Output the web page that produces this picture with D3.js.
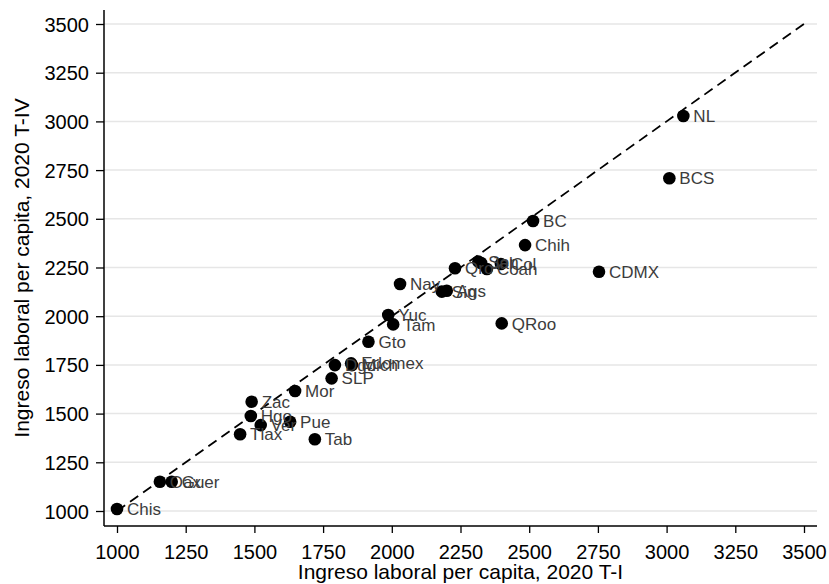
<!DOCTYPE html>
<html>
<head>
<meta charset="utf-8">
<script src="https://cdn.jsdelivr.net/npm/d3@7"></script>
<style>
  body { margin: 0; background: #fff; }
  text { font-family: "Liberation Sans", Arial, sans-serif; }
</style>
</head>
<body>
<div id="chart"></div>
<script>
// States and their income per capita (T-I vs T-IV)
const states = ['Chis', 'Oax', 'Guer', 'Tlax', 'Ver', 'Hgo', 'Zac', 'Pue', 'Tab', 'Mor',
  'SLP', 'Dgo', 'Mich', 'Edomex', 'Gto', 'Yuc', 'Tam', 'Nay', 'Sin', 'Ags',
  'Qro', 'Son', 'Jal', 'Col', 'Coah', 'Chih', 'QRoo', 'BC', 'CDMX', 'BCS', 'NL'];
const ingresoT1 = [1000, 1156, 1199, 1448, 1523, 1487, 1490, 1630, 1720, 1648,
  1781, 1793, 1855, 1852, 1915, 1987, 2005, 2030, 2182, 2200,
  2230, 2315, 2325, 2397, 2346, 2485, 2400, 2514, 2754, 3010, 3061];
const ingresoT4 = [1010, 1150, 1150, 1394, 1441, 1488, 1561, 1458, 1368, 1616,
  1681, 1749, 1749, 1758, 1869, 2006, 1958, 2165, 2126, 2131,
  2246, 2280, 2273, 2268, 2242, 2365, 1963, 2489, 2228, 2708, 3028];
const ticks = [1000, 1250, 1500, 1750, 2000, 2250, 2500, 2750, 3000, 3250, 3500];

const width = 829;
const height = 584;

// plot area edges
const plotLeft = 104;
const plotRight = 817;
const plotTop = 10;
const plotBottom = 526;

const svg = d3.select('#chart')
  .append('svg')
  .attr('width', width)
  .attr('height', height);

const x = d3.scaleLinear().domain([1000, 3500]).range([117, 804]);
const y = d3.scaleLinear().domain([1000, 3500]).range([511, 24]);

const data = states.map((s, i) => ({ name: s, x: ingresoT1[i], y: ingresoT4[i] }));

// horizontal grid
svg.append('g')
  .selectAll('line')
  .data(ticks)
  .enter()
  .append('line')
  .attr('x1', plotLeft)
  .attr('x2', plotRight)
  .attr('y1', d => y(d))
  .attr('y2', d => y(d))
  .attr('stroke', '#e6e6e6')
  .attr('stroke-width', 1.5);

// x-axis
const xAxis = svg.append('g')
  .attr('transform', `translate(0,${plotBottom})`)
  .call(d3.axisBottom(x).tickValues(ticks).tickFormat(d3.format('d'))
    .tickSize(7).tickSizeOuter(0).tickPadding(12));
xAxis.select('.domain').attr('d', `M${plotLeft},0H${plotRight}`).attr('stroke-width', 1.5);
xAxis.selectAll('text').attr('font-size', '20px').attr('fill', '#000');
xAxis.selectAll('.tick line').attr('stroke-width', 1.3);

// y-axis
const yAxis = svg.append('g')
  .attr('transform', `translate(${plotLeft},0)`)
  .call(d3.axisLeft(y).tickValues(ticks).tickFormat(d3.format('d'))
    .tickSize(8).tickSizeOuter(0).tickPadding(7));
yAxis.select('.domain').attr('d', `M0,${plotTop}V${plotBottom}`).attr('stroke-width', 1.5);
yAxis.selectAll('text').attr('font-size', '20px').attr('fill', '#000').attr('dy', '0.35em');
yAxis.selectAll('.tick line').attr('stroke-width', 1.3);

// 45 degree line
svg.append('line')
  .attr('x1', x(1000))
  .attr('y1', y(1000))
  .attr('x2', x(3500))
  .attr('y2', y(3500))
  .attr('stroke', '#000')
  .attr('stroke-width', 1.8)
  .attr('stroke-dasharray', '10,6');

// points
svg.append('g')
  .selectAll('circle')
  .data(data)
  .enter()
  .append('circle')
  .attr('cx', d => x(d.x))
  .attr('cy', d => y(d.y))
  .attr('r', 6.3)
  .attr('fill', '#000');

// labels
svg.append('g')
  .selectAll('text')
  .data(data)
  .enter()
  .append('text')
  .attr('x', d => x(d.x) + 10)
  .attr('y', d => y(d.y))
  .attr('dy', '0.36em')
  .attr('font-size', '17px')
  .attr('fill', '#3c3c3c')
  .text(d => d.name);

// axis titles
svg.append('text')
  .attr('x', (plotLeft + plotRight) / 2)
  .attr('y', 579)
  .attr('text-anchor', 'middle')
  .attr('font-size', '21px')
  .text('Ingreso laboral per capita, 2020 T-I');

svg.append('text')
  .attr('transform', 'rotate(-90)')
  .attr('x', -(plotTop + plotBottom) / 2)
  .attr('y', 29)
  .attr('text-anchor', 'middle')
  .attr('font-size', '21px')
  .text('Ingreso laboral per capita, 2020 T-IV');
</script>
</body>
</html>
